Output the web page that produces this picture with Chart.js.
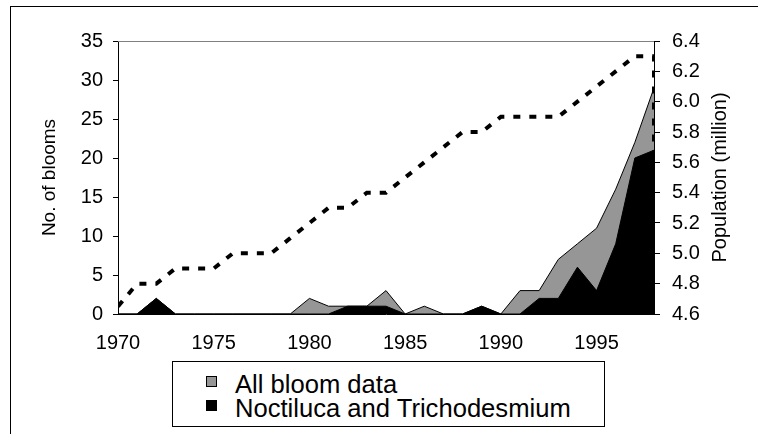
<!DOCTYPE html>
<html>
<head>
<meta charset="utf-8">
<script src="https://cdn.jsdelivr.net/npm/chart.js@4/dist/chart.umd.min.js"></script>
<style>
  html, body { margin: 0; padding: 0; background: #fff; overflow: hidden; width: 758px; height: 434px; }
  #wrap { position: relative; width: 758px; height: 434px; overflow: hidden; }
  #frame { position: absolute; left: 10px; top: 6px; width: 800px; height: 500px; border: 1px solid #000; box-sizing: border-box; }
  canvas { position: absolute; left: 0; top: 0; }
  #legend { position: absolute; left: 172px; top: 361px; width: 433px; height: 66px; border: 1px solid #000; box-sizing: border-box; background: #fff;
            font-family: "Liberation Sans", Arial, sans-serif; font-size: 25.6px; color: #000; }
  .row { position: absolute; left: 62px; height: 24px; line-height: 24px; white-space: nowrap; }
  .sw { position: absolute; left: 33px; width: 11px; height: 11px; border: 1px solid #000; box-sizing: border-box; }
</style>
</head>
<body>
<div id="wrap">
  <div id="frame"></div>
  <canvas id="c" width="758" height="434"></canvas>
  <div id="legend"></div>
</div>
<script>
const years = [1970,1971,1972,1973,1974,1975,1976,1977,1978,1979,1980,1981,1982,1983,1984,1985,1986,1987,1988,1989,1990,1991,1992,1993,1994,1995,1996,1997,1998];
const allBlooms = [0,0,2,0,0,0,0,0,0,0,2,1,1,1,3,0,1,0,0,1,0,3,3,7,9,11,16,22,29];
const noctilucaTricho = [0,0,2,0,0,0,0,0,0,0,0,0,1,1,1,0,0,0,0,1,0,0,2,2,6,3,9,20,21];
// population series; the source plots a trailing blank (zero) at 1998, giving the drop at the right edge
const popYears = [1970,1971,1972,1973,1974,1975,1976,1977,1978,1979,1980,1981,1982,1983,1984,1985,1986,1987,1988,1989,1990,1991,1992,1993,1994,1995,1996,1997,1998,1998];
const population = [4.65,4.8,4.8,4.9,4.9,4.9,5.0,5.0,5.0,5.1,5.2,5.3,5.3,5.4,5.4,5.5,5.6,5.7,5.8,5.8,5.9,5.9,5.9,5.9,6.0,6.1,6.2,6.3,6.3,0];
const xTicks = [1970,1975,1980,1985,1990,1995];
const bloomTicks = [0,5,10,15,20,25,30,35];
const popTicks = [4.6,4.8,5.0,5.2,5.4,5.6,5.8,6.0,6.2,6.4];

const FONT = '"Liberation Sans", Arial, sans-serif';
Chart.defaults.font.family = FONT;
Chart.defaults.color = '#000';

const pts = (xs, ys) => xs.map((x, i) => ({x: x, y: ys[i]}));

const plotFrame = {
  id: 'plotFrame',
  beforeDatasetsDraw(chart) {
    const {ctx, chartArea: a} = chart;
    ctx.save();
    ctx.strokeStyle = '#808080';
    ctx.lineWidth = 1;
    ctx.beginPath();
    ctx.moveTo(a.left, a.top + 0.5);
    ctx.lineTo(a.right, a.top + 0.5);
    ctx.stroke();
    ctx.restore();
  },
  afterDraw(chart) {
    const {ctx, chartArea: a} = chart;
    ctx.save();
    ctx.font = '20px ' + FONT;
    ctx.fillStyle = '#000';
    ctx.textAlign = 'center';
    ctx.textBaseline = 'middle';
    ctx.translate(720, (a.top + a.bottom) / 2);
    ctx.rotate(-Math.PI / 2);
    ctx.fillText('Population (million)', 0, 0);
    ctx.restore();
  }
};

const chart = new Chart(document.getElementById('c'), {
  type: 'line',
  data: {
    datasets: [
      { label: 'All bloom data', data: pts(years, allBlooms), yAxisID: 'y',
        backgroundColor: '#969696', borderColor: '#000', borderWidth: 1, fill: 'origin',
        pointRadius: 0, tension: 0, order: 2, inLegend: true },
      { label: 'Noctiluca and Trichodesmium', data: pts(years, noctilucaTricho), yAxisID: 'y',
        backgroundColor: '#000', borderColor: '#000', borderWidth: 1, fill: 'origin',
        pointRadius: 0, tension: 0, order: 1, inLegend: true },
      { label: 'Population', data: pts(popYears, population), yAxisID: 'y2',
        borderColor: '#000', borderWidth: 4, borderDash: [7, 9], borderCapStyle: 'butt',
        fill: false, pointRadius: 0, tension: 0, order: 0 }
    ]
  },
  options: {
    responsive: false,
    animation: false,
    devicePixelRatio: 1,
    layout: { padding: { left: 0, right: 0, top: 41, bottom: 80 } },
    plugins: { legend: { display: false }, tooltip: { enabled: false } },
    scales: {
      x: {
        type: 'linear', min: 1970, max: 1998,
        grid: { display: false },
        border: { display: true, color: '#000', width: 1 },
        afterBuildTicks: s => { s.ticks = xTicks.map(v => ({value: v})); },
        ticks: { font: { size: 20 }, color: '#000', padding: 9, maxRotation: 0, autoSkip: false,
                 callback: v => String(v) },
        afterFit: s => { s.height = 40; }
      },
      y: {
        position: 'left', min: 0, max: 35,
        grid: { drawOnChartArea: false, tickLength: 5, color: '#000' },
        border: { display: true, color: '#000', width: 1 },
        afterBuildTicks: s => { s.ticks = bloomTicks.map(v => ({value: v})); },
        ticks: { font: { size: 20 }, color: '#000', padding: 10, callback: v => String(v) },
        title: { display: true, text: 'No. of blooms', font: { size: 19 }, color: '#000', padding: { top: 38, bottom: 0 } },
        afterFit: s => { s.width = 118; }
      },
      y2: {
        position: 'right', min: 4.6, max: 6.4,
        grid: { drawOnChartArea: false, tickLength: 6, color: '#000' },
        border: { display: true, color: '#000', width: 1 },
        afterBuildTicks: s => { s.ticks = popTicks.map(v => ({value: v})); },
        ticks: { font: { size: 20 }, color: '#000', padding: 12, callback: v => Number(v).toFixed(1) },
        afterFit: s => { s.width = 104; }
      }
    }
  },
  plugins: [plotFrame]
});

// HTML legend built from the chart's datasets
const legend = document.getElementById('legend');
let r = 0;
chart.data.datasets.forEach(ds => {
  if (!ds.inLegend) return;
  const sw = document.createElement('div');
  sw.className = 'sw';
  sw.style.top = (14 + r * 24) + 'px';
  sw.style.background = ds.backgroundColor;
  legend.appendChild(sw);
  const row = document.createElement('div');
  row.className = 'row';
  row.style.top = (10 + r * 24) + 'px';
  row.textContent = ds.label;
  legend.appendChild(row);
  r++;
});
</script>
</body>
</html>
